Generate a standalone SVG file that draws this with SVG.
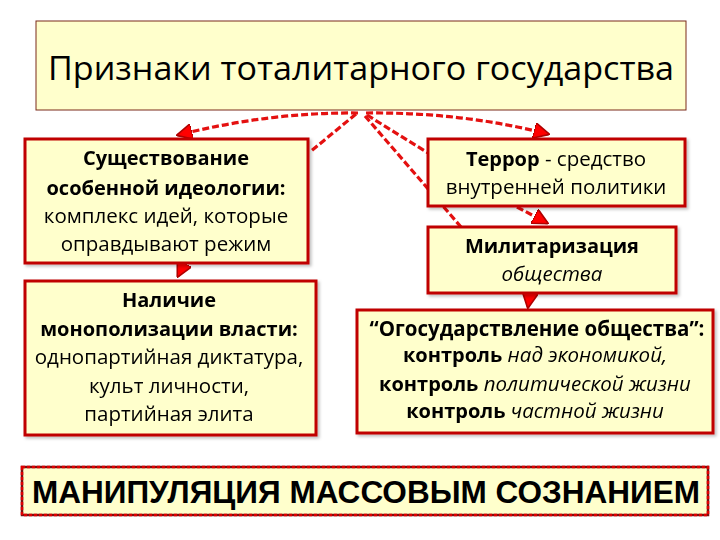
<svg xmlns="http://www.w3.org/2000/svg" width="720" height="540" viewBox="0 0 720 540">
<defs>
<style>
.box{fill:#FFFFCC;stroke:#C00000;stroke-width:3}
.t{font-family:"Open Sans","Liberation Sans",sans-serif;font-size:20.5px;fill:#000;text-anchor:middle}
.b{font-weight:bold;font-size:20px}
.i{font-style:italic}
.con{fill:none;stroke:#E41010;stroke-width:3.2;stroke-dasharray:7 3}
</style>
<marker id="ah" viewBox="0 0 10 10" refX="9" refY="5" markerWidth="5" markerHeight="5" orient="auto" markerUnits="strokeWidth">
<path d="M0,0 L10,5 L0,10 z" fill="#FF0000" stroke="#B00000" stroke-width="1"/>
</marker>
<filter id="sh" x="-5%" y="-5%" width="110%" height="115%">
<feDropShadow dx="2" dy="2" stdDeviation="1.5" flood-color="#000" flood-opacity="0.25"/>
</filter>
</defs>
<rect width="720" height="540" fill="#fff"/>

<g id="title">
<rect x="36" y="21" width="650" height="89" fill="#FFFFCC" stroke="#7A2A1A" stroke-width="1"/>
<text x="361" y="80" font-family="'Open Sans','Liberation Sans',sans-serif" font-size="32" text-anchor="middle" textLength="626" lengthAdjust="spacingAndGlyphs">Признаки тоталитарного государства</text>
</g>

<g id="connectors">
<path class="con" d="M358,113 Q270,112 178,135" marker-end="url(#ah)"/>
<path class="con" d="M356,114 L310,152"/>
<path class="con" d="M366,113 Q462,112 548,134" marker-end="url(#ah)"/>
<path class="con" d="M367,115 L428,153"/>
<path class="con" d="M365,116 L461,227"/>
<path class="con" d="M517,207 L547,223" marker-end="url(#ah)"/>
<path class="con" d="M184,264 L178,276" marker-end="url(#ah)"/>
<path class="con" d="M530,294 L528,307" marker-end="url(#ah)"/>
</g>

<g id="ideology" filter="url(#sh)">
<rect class="box" x="25" y="139" width="283" height="124"/>
<text class="t b" x="166" y="165">Существование</text>
<text class="t b" x="166" y="195">особенной идеологии:</text>
<text class="t" x="166" y="223">комплекс идей, которые</text>
<text class="t" x="166" y="251">оправдывают режим</text>
</g>

<g id="monopoly" filter="url(#sh)">
<rect class="box" x="25" y="281" width="291" height="154"/>
<text class="t b" x="169" y="307">Наличие</text>
<text class="t b" x="169" y="336">монополизации власти:</text>
<text class="t" x="169" y="364">однопартийная диктатура,</text>
<text class="t" x="169" y="393">культ личности,</text>
<text class="t" x="169" y="421">партийная элита</text>
</g>

<g id="terror" filter="url(#sh)">
<rect class="box" x="428" y="139" width="257" height="67"/>
<text class="t" x="556" y="166"><tspan class="b">Террор</tspan> - средство</text>
<text class="t" x="556" y="194">внутренней политики</text>
</g>

<g id="militar" filter="url(#sh)">
<rect class="box" x="428" y="227" width="248" height="66"/>
<text class="t b" x="552" y="253">Милитаризация</text>
<text class="t i" x="552" y="281">общества</text>
</g>

<g id="statization" filter="url(#sh)">
<rect class="box" x="357" y="310" width="356" height="123"/>
<text class="t b" x="537" y="336" style="font-size:20.5px">“Огосударствление общества”:</text>
<text class="t" x="535" y="362"><tspan class="b">контроль</tspan> <tspan class="i">над экономикой,</tspan></text>
<text class="t" x="535" y="391"><tspan class="b">контроль</tspan> <tspan class="i">политической жизни</tspan></text>
<text class="t" x="535" y="418"><tspan class="b">контроль</tspan> <tspan class="i">частной жизни</tspan></text>
</g>

<g id="manipulation">
<rect x="22" y="467" width="686" height="48" fill="#FFFFCC" stroke="#7A1010" stroke-width="2.5"/>
<rect x="22" y="467" width="686" height="48" fill="none" stroke="#E00000" stroke-width="2.5" stroke-dasharray="3 2"/>
<text x="366" y="503" font-family="'Liberation Sans',sans-serif" font-weight="bold" font-size="31" text-anchor="middle" textLength="668" lengthAdjust="spacingAndGlyphs">МАНИПУЛЯЦИЯ МАССОВЫМ СОЗНАНИЕМ</text>
</g>
</svg>
